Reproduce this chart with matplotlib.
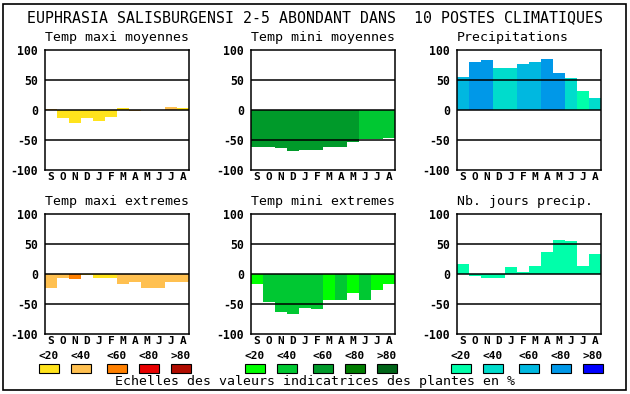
import matplotlib
matplotlib.use("Agg")
import matplotlib.pyplot as plt
from matplotlib.patches import Rectangle

W, H = 630, 394

months = ["S", "O", "N", "D", "J", "F", "M", "A", "M", "J", "J", "A"]
scale_labels = ["<20", "<40", "<60", "<80", ">80"]

# palettes (indicator scale)
reds = ["#ffe31c", "#ffc050", "#ff8000", "#e80000", "#b00c00"]
greens = ["#00ff00", "#00c832", "#009a2a", "#007d00", "#006418"]
blues = ["#00ffaa", "#00dccc", "#00b8e0", "#0098e8", "#0000ff"]

# values per month (S..A) and colour class per bar
tmax_moy = [2, -13, -21, -14, -18, -11, 3, -2, 0, 0, 5, 3]
tmax_moy_cls = [1, 0, 0, 0, 0, 0, 0, 1, 0, 0, 1, 0]
tmin_moy = [-62, -62, -64, -68, -66, -66, -62, -62, -53, -48, -48, -46]
tmin_moy_cls = [2, 2, 2, 2, 2, 2, 2, 2, 2, 1, 1, 1]
precip = [55, 80, 83, 70, 70, 77, 80, 85, 62, 53, 32, 20]
precip_cls = [2, 3, 3, 1, 1, 2, 2, 3, 3, 1, 0, 1]
tmax_ext = [-24, -6, -8, -2, -6, -6, -16, -13, -24, -23, -14, -14]
tmax_ext_cls = [1, 1, 2, 0, 0, 0, 1, 1, 1, 1, 1, 1]
tmin_ext = [-16, -46, -63, -66, -56, -58, -44, -44, -31, -43, -26, -16]
tmin_ext_cls = [0, 1, 1, 1, 1, 1, 0, 1, 0, 1, 0, 0]
nb_jours = [17, -4, -6, -6, 11, 4, 14, 36, 56, 55, 14, 33]
nb_jours_cls = [0] * 12

panels = [
    ("Temp maxi moyennes", tmax_moy, tmax_moy_cls, reds, 45, 50),
    ("Temp mini moyennes", tmin_moy, tmin_moy_cls, greens, 251, 50),
    ("Precipitations", precip, precip_cls, blues, 457, 50),
    ("Temp maxi extremes", tmax_ext, tmax_ext_cls, reds, 45, 214),
    ("Temp mini extremes", tmin_ext, tmin_ext_cls, greens, 251, 214),
    ("Nb. jours precip.", nb_jours, nb_jours_cls, blues, 457, 214),
]

MONO = "DejaVu Sans Mono"

fig = plt.figure(figsize=(6.3, 3.94), dpi=100)
fig.patch.set_facecolor("white")

def fx(x):
    return x / W

def fy(y):
    return 1 - y / H

# outer frame
fig.patches.append(Rectangle((fx(3), fy(390)), fx(623), 386 / H, transform=fig.transFigure,
                             fill=False, edgecolor="black", lw=1.2))

fig.text(fx(315), fy(18), "EUPHRASIA SALISBURGENSI 2-5 ABONDANT DANS  10 POSTES CLIMATIQUES",
         ha="center", va="center", family=MONO, fontsize=10.7)

for title, vals, cls, pal, left, top in panels:
    ax = fig.add_axes([fx(left), fy(top + 120), 144 / W, 120 / H])
    colors = [pal[c] for c in cls]
    ax.bar(range(12), vals, width=1.0, color=colors, linewidth=0, zorder=2)
    for yv in (-50, 0, 50):
        ax.axhline(yv, color="black", lw=1.1, zorder=3)
    ax.set_xlim(-0.5, 11.5)
    ax.set_ylim(-100, 100)
    ax.set_yticks([-100, -50, 0, 50, 100])
    ax.set_xticks(range(12))
    ax.set_xticklabels(months, family=MONO, fontweight="bold", fontsize=8)
    ax.set_yticklabels(["-100", "-50", "0", "50", "100"], family=MONO, fontweight="bold", fontsize=8.3)
    ax.tick_params(length=0, pad=1.5)
    ax.tick_params(axis="y", pad=5)
    for s in ax.spines.values():
        s.set_linewidth(1.1)
    fig.text(fx(left), fy(top - 12), title, ha="left", va="center",
             family=MONO, fontsize=9.5)

# legend scales under the bottom row
for pal, left in ((reds, 45), (greens, 251), (blues, 457)):
    offsets = [-6, 26, 62, 94, 126]
    for off, col, lab in zip(offsets, pal, scale_labels):
        fig.patches.append(Rectangle((fx(left + off), fy(373)), 20 / W, 9 / H,
                                     transform=fig.transFigure, facecolor=col,
                                     edgecolor="black", lw=0.8))
        fig.text(fx(left + off + 10), fy(356), lab, ha="center", va="center",
                 family=MONO, fontweight="bold", fontsize=8)

fig.text(fx(315), fy(382), "Echelles des valeurs indicatrices des plantes en %",
         ha="center", va="center", family=MONO, fontsize=9.5)

fig.savefig("out.png", dpi=100)
